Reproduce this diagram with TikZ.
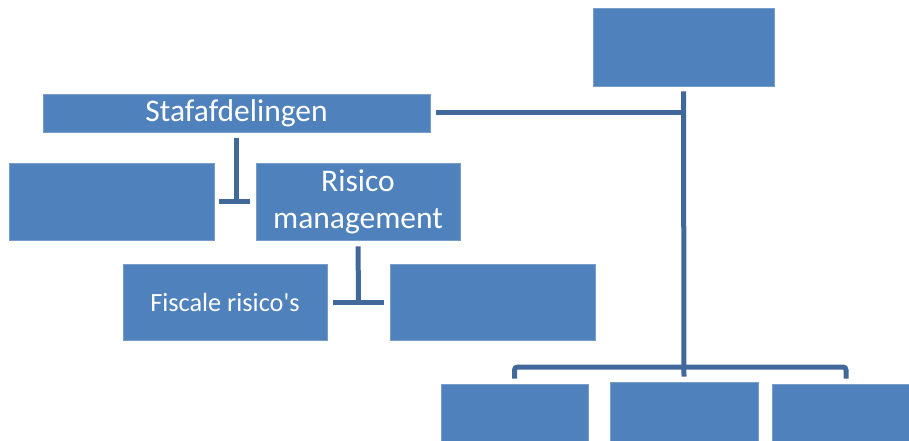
\documentclass[tikz,border=0pt]{standalone}
\usepackage{fontspec}
\setmainfont{Carlito}
\usepackage{tikz}
\usetikzlibrary{positioning, calc}

\definecolor{boxblue}{HTML}{4F81BD}
\definecolor{boxedge}{HTML}{7A9CCB}
\definecolor{linkblue}{HTML}{41689A}

\begin{document}
\begin{tikzpicture}[x=1pt,y=-1pt,
        unit/.style={rectangle,draw=boxedge,line width=0.8pt,fill=boxblue,text=white,
            inner sep=0pt,align=center,font=\fontsize{31.5}{37}\selectfont},
        small/.style={unit,font=\fontsize{26.3}{30}\selectfont},
        link/.style={draw=linkblue,line width=5pt}]

        \useasboundingbox (0,0) rectangle (909,441);
        \clip (0,0) rectangle (909,441);

        \node[unit,minimum width=181pt,minimum height=78pt] (top) at (683.5,47) {};

        \node[unit,minimum width=387pt,minimum height=38pt] (staf) at (236.5,113) {Stafafdelingen};
        \node[unit,minimum width=205pt,minimum height=77pt] (staf1) at (111.5,201.5) {};
        \node[unit,minimum width=204pt,minimum height=77pt] (risico) at (358,201.5) {Risico\\management};

        \node[small,minimum width=204pt,minimum height=76pt] (fisc) at (225,302) {Fiscale risico\textquotesingle s};
        \node[unit,minimum width=205pt,minimum height=76pt] (risico2) at (492.5,302) {};

        \node[unit,minimum width=147pt,minimum height=77pt] (afd1) at (514.5,422.5) {};
        \node[unit,minimum width=148pt,minimum height=77pt] (afd2) at (684,420.5) {};
        \node[unit,minimum width=148pt,minimum height=77pt] (afd3) at (846,422.5) {};

        \coordinate (bar) at (684,367);

        % main line
        \draw[link,shorten <=5pt,shorten >=5pt] (top.south) -- (afd2.north);
        \draw[link,shorten <=6pt] (staf.east) -- (staf.east -| top.south);
        \draw[link,rounded corners=3pt] ([yshift=5pt]afd1.north) |- (bar) -| ([yshift=5pt]afd3.north);

        % staff units
        \draw[link,shorten <=6pt,shorten >=-2pt] (staf.south) -- (staf.south |- risico.west);
        \draw[link,shorten <=5pt,shorten >=6pt] (staf1.east) -- (risico.west);

        \draw[link,shorten <=6pt] (risico.south) -- ($(fisc.east)!0.5!(risico2.west)$);
        \draw[link,shorten <=6pt,shorten >=6pt] (fisc.east) -- (risico2.west);
\end{tikzpicture}
\end{document}
